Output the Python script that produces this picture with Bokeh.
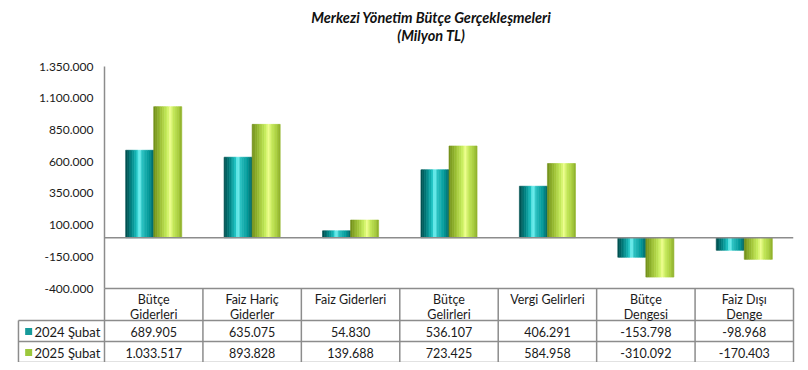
from bokeh.plotting import figure
from bokeh.models import Range1d, FixedTicker, Span, ColumnDataSource
from bokeh.core.properties import value
from bokeh.embed import file_html
from bokeh.resources import INLINE

title_line1 = "Merkezi Yönetim Bütçe Gerçekleşmeleri"
title_line2 = "(Milyon TL)"
categories = ["Bütçe\nGiderleri", "Faiz Hariç\nGiderler", "Faiz Giderleri", "Bütçe\nGelirleri",
              "Vergi Gelirleri", "Bütçe\nDengesi", "Faiz Dışı\nDenge"]
series_names = ["2024 Şubat", "2025 Şubat"]
series_colors = ["#169a9a", "#9cc83c"]
values_2024 = [689905, 635075, 54830, 536107, 406291, -153798, -98968]
values_2025 = [1033517, 893828, 139688, 723425, 584958, -310092, -170403]
y_ticks = [-400000, -150000, 100000, 350000, 600000, 850000, 1100000, 1350000]
y_tick_labels = ["-400.000", "-150.000", "100.000", "350.000", "600.000", "850.000", "1.100.000", "1.350.000"]

FONT = "Lato"
TXT = "#1a1a1a"
BORDER = "#8c8c8c"
n = len(categories)

p = figure(width=800, height=362, x_range=Range1d(0, n), y_range=Range1d(y_ticks[0], y_ticks[-1]),
           output_backend="svg", toolbar_location=None, title=None,
           min_border_left=104, min_border_right=7, min_border_top=66, min_border_bottom=74,
           x_axis_location=None)
p.outline_line_color = None
p.grid.visible = False
p.background_fill_color = "white"
p.border_fill_color = "white"
p.extra_y_ranges = {"tbl": Range1d(0, 222)}

ax = p.yaxis[0]
ax.ticker = FixedTicker(ticks=y_ticks)
ax.major_label_overrides = {t: l for t, l in zip(y_ticks, y_tick_labels)}
ax.major_label_text_font = FONT
ax.major_label_text_font_size = "12px"
ax.major_label_text_color = TXT
ax.axis_line_color = BORDER
ax.axis_line_width = 1.5
ax.major_tick_line_color = None
ax.minor_tick_line_color = None
ax.major_tick_out = 0
ax.major_tick_in = 0
ax.major_label_standoff = 11

p.add_layout(Span(location=0, dimension="width", line_color=BORDER, line_width=1.5))


def hex2rgb(h):
    return tuple(int(h[i:i + 2], 16) for i in (1, 3, 5))


def shade(stops, t):
    for (p0, c0), (p1, c1) in zip(stops[:-1], stops[1:]):
        if p0 <= t <= p1:
            f = (t - p0) / (p1 - p0) if p1 > p0 else 0
            a, b = hex2rgb(c0), hex2rgb(c1)
            return "#%02x%02x%02x" % tuple(round(a[i] + (b[i] - a[i]) * f) for i in range(3))
    return stops[-1][1]


teal_stops = [(0, "#004a4a"), (0.2, "#007e7e"), (0.42, "#1cc4c4"), (0.5, "#8affff"),
              (0.58, "#2cc4c4"), (0.85, "#009696"), (1, "#006565")]
green_stops = [(0, "#6f8c18"), (0.25, "#9cc035"), (0.5, "#cbf160"), (0.6, "#efff90"),
               (0.7, "#c6ea5a"), (0.9, "#a6cb3c"), (1, "#8aac28")]

bw = 0.285
ns = 16
for vals, stops, off in [(values_2024, teal_stops, -bw / 2), (values_2025, green_stops, bw / 2)]:
    xs, tops, cols = [], [], []
    for i, v in enumerate(vals):
        for k in range(ns):
            t = (k + 0.5) / ns
            xs.append(i + 0.5 + off - bw / 2 + t * bw)
            tops.append(v)
            cols.append(shade(stops, t))
    src = ColumnDataSource(dict(x=xs, top=tops, c=cols))
    p.vbar(x="x", top="top", bottom=0, width=bw / ns, fill_color="c", line_color="c",
           line_width=0.6, source=src)

# ---- data table below the chart ----
def fmt(v):
    return f"{v:,}".replace(",", ".")

lx = -0.874
hx0 = [0] + [lx, lx, lx]
hx1 = [n, n, n, n]
hy = [0, -32, -53, -74]
p.segment(x0=hx0, y0=hy, x1=hx1, y1=hy, line_color=BORDER, line_width=1.5,
          y_range_name="tbl", level="overlay")
vx = list(range(n + 1)) + [lx]
vy0 = [0] * (n + 1) + [-32]
vy1 = [-74] * (n + 2)
p.segment(x0=vx, y0=vy0, x1=vx, y1=vy1, line_color=BORDER, line_width=1.5,
          y_range_name="tbl", level="overlay")

cx = [i + 0.5 for i in range(n)]
line1 = [c.split("\n")[0] for c in categories]
line2 = [c.split("\n")[1] if "\n" in c else "" for c in categories]
for lines, yy in [(line1, -11), (line2, -26)]:
    p.text(x=cx, y=[yy] * n, text=lines, text_font=value(FONT), text_font_size="12.5px",
           text_color=TXT, text_align="center", text_baseline="middle",
           y_range_name="tbl", level="overlay")
for vals, yy in [(values_2024, -43), (values_2025, -64)]:
    p.text(x=cx, y=[yy] * n, text=[fmt(v) for v in vals], text_font=value(FONT),
           text_font_size="12.5px", text_color=TXT, text_align="center", text_baseline="middle",
           y_range_name="tbl", level="overlay")

# legend keys (short thick segments render outside the frame)
p.segment(x0=[-0.806, -0.806], x1=[-0.735, -0.735], y0=[-43, -64], y1=[-43, -64],
          line_width=7, line_cap="butt", line_color=series_colors,
          y_range_name="tbl", level="overlay")
p.text(x=[-0.712, -0.712], y=[-43, -64], text=series_names, text_font=value(FONT),
       text_font_size="13px", text_color=TXT, text_align="left", text_baseline="middle",
       y_range_name="tbl", level="overlay")

p.text(x=[3.32, 3.32], y=[271, 253], text=[title_line1, title_line2], text_font=value(FONT),
       text_font_size="14.5px", text_font_style="bold italic", text_color="#111111",
       text_align="center", text_baseline="middle", y_range_name="tbl", level="overlay")

open("out.html", "w").write(file_html(p, INLINE))
